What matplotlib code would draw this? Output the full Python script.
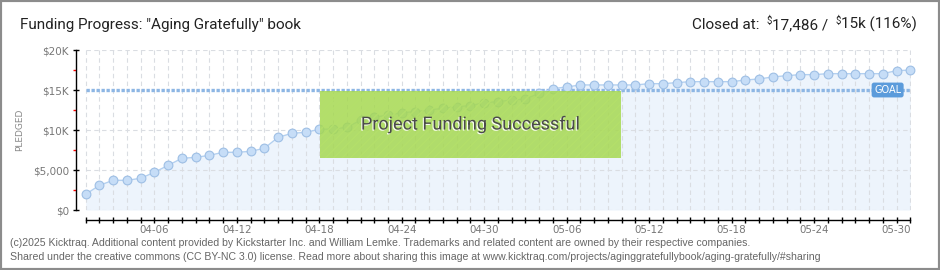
import matplotlib
matplotlib.use("Agg")
import matplotlib.pyplot as plt
import matplotlib.patheffects as pe
from matplotlib.patches import Rectangle
from matplotlib.ticker import MultipleLocator, FixedLocator
import numpy as np
import pandas as pd

# daily pledged totals, 2025-04-01 .. 2025-05-31
dates = pd.date_range("2025-04-01", "2025-05-31").strftime("%m-%d").tolist()
pledged = [1960, 3080, 3710, 3710, 3960, 4710, 5580, 6460, 6580, 6830,
           7210, 7210, 7330, 7710, 9080, 9580, 9710, 10080, 10130, 10330,
           11210, 11630, 11830, 12170, 12290, 12500, 12710, 12920, 13040, 13420,
           13540, 13750, 13880, 14580, 15170, 15380, 15630, 15630, 15630, 15630,
           15630, 15790, 15790, 15920, 16040, 16040, 16040, 16040, 16250, 16380,
           16630, 16790, 16920, 16920, 17040, 17040, 17040, 17040, 17040, 17420,
           17486]
goal = 15000
label_dates = ["04-06", "04-12", "04-18", "04-24", "04-30",
               "05-06", "05-12", "05-18", "05-24", "05-30"]
y_ticks = [0, 5000, 10000, 15000, 20000]
y_labels = ["$0", "$5,000", "$10K", "$15K", "$20K"]

W, H = 940, 270
fx = lambda px: px / W
fy = lambda py: 1 - py / H

fig = plt.figure(figsize=(W / 100, H / 100), dpi=100)
ax = fig.add_axes([fx(76), fy(210), 835 / W, 160 / H])

x = np.arange(len(pledged))

ax.fill_between(x, pledged, 0, color="#edf4fc", lw=0, zorder=1)
ax.vlines(x, 0, 20000, colors="#dadde2", linestyles=(0, (4, 3)), lw=0.8, zorder=1.5)
ax.hlines([0, 5000, 10000, 20000], 0, x[-1], colors="#dadde2",
          linestyles=(0, (4, 3)), lw=0.8, zorder=1.5)
ax.hlines(goal, 0, x[-1], colors="#8db6e4", linestyles=(0, (1, 0.5)), lw=2.4, zorder=3)

ax.plot(x, pledged, color="#b3d0f0", lw=1, marker="o", ms=6.3,
        mfc="#c6ddf7", mec="#9ebfe5", mew=0.8, zorder=4, clip_on=False)

# funded banner
ax.add_patch(Rectangle((0.292, 0.325), 0.3605, 0.419, transform=ax.transAxes,
                       facecolor="#a5d84f", edgecolor="#b4e06a", hatch="////",
                       lw=0, alpha=0.84, zorder=5))
ax.text(0.292 + 0.3605 / 2, 0.325 + 0.419 / 2, "Project Funding Successful",
        transform=ax.transAxes, ha="center", va="center", fontsize=13,
        color="#4b4b4b", family="Roboto", zorder=6,
        path_effects=[pe.SimplePatchShadow(offset=(-0.8, -0.8), shadow_rgbFace="white", alpha=0.9),
                      pe.Normal()])

ax.text(58.35, goal, "GOAL", ha="center", va="center", fontsize=7, color="white",
        zorder=6, bbox=dict(boxstyle="round,pad=0.25", fc="#5b9bdb", ec="none"))

ax.set_xlim(-0.7, 60.05)
ax.set_ylim(0, 20000)

for s in ["top", "right"]:
    ax.spines[s].set_visible(False)
ax.spines["left"].set_bounds(0, 20000)
ax.spines["left"].set_linewidth(1)
ax.spines["bottom"].set_position(("outward", 7.2))
ax.spines["bottom"].set_bounds(0, x[-1])
ax.spines["bottom"].set_linewidth(1)

ax.set_yticks(y_ticks)
ax.set_yticklabels(y_labels)
ax.yaxis.set_minor_locator(MultipleLocator(2500))
ax.tick_params(axis="y", which="major", direction="inout", length=4, width=1,
               labelsize=7.5, labelcolor="#777777", pad=3)
ax.tick_params(axis="y", which="minor", direction="out", length=2.5, width=1, color="red")

ax.xaxis.set_major_locator(FixedLocator(x))
ax.set_xticklabels([d if d in label_dates else "" for d in dates])
ax.tick_params(axis="x", direction="inout", length=4, width=1,
               labelsize=7.4, labelcolor="#777777", pad=1.5)

fig.text(fx(20), fy(130), "PLEDGED", rotation=90, ha="center", va="center",
         fontsize=6.5, color="#888888")

# header
hfont = "Roboto"
base_y = fy(29)
fig.text(fx(20), base_y, 'Funding Progress: "Aging Gratefully" book', ha="left",
         va="baseline", fontsize=11, color="#222222", family=hfont)

renderer = fig.canvas.get_renderer()
pieces = [("15k (116%)", 11, 0), ("\\$", 7, 5), ("17,486 /  ", 11, 0),
          ("\\$", 7, 5), ("Closed at:  ", 11, 0)]
right = fx(917)
for s, fs, rise in pieces:
    t = fig.text(right, base_y + rise / H, s, ha="right", va="baseline",
                 fontsize=fs, color="#222222", family=hfont)
    bb = t.get_window_extent(renderer)
    right = bb.x0 / W

# footer
foot = ("(c)2025 Kicktraq. Additional content provided by Kickstarter Inc. and William Lemke. "
        "Trademarks and related content are owned by their respective companies.")
foot2 = ("Shared under the creative commons (CC BY-NC 3.0) license. Read more about sharing this "
         "image at www.kicktraq.com/projects/aginggratefullybook/aging-gratefully/#sharing")
fig.text(fx(10), fy(243), foot, ha="left", va="center", fontsize=7.6, color="#666666",
         family="Liberation Sans")
fig.text(fx(10), fy(257), foot2, ha="left", va="center", fontsize=7.6, color="#666666",
         family="Liberation Sans")

fig.patches.append(Rectangle((0, 0), 1, 1, transform=fig.transFigure, fill=False,
                             ec="#8c8c8c", lw=3))

fig.savefig("out.png", dpi=100)
